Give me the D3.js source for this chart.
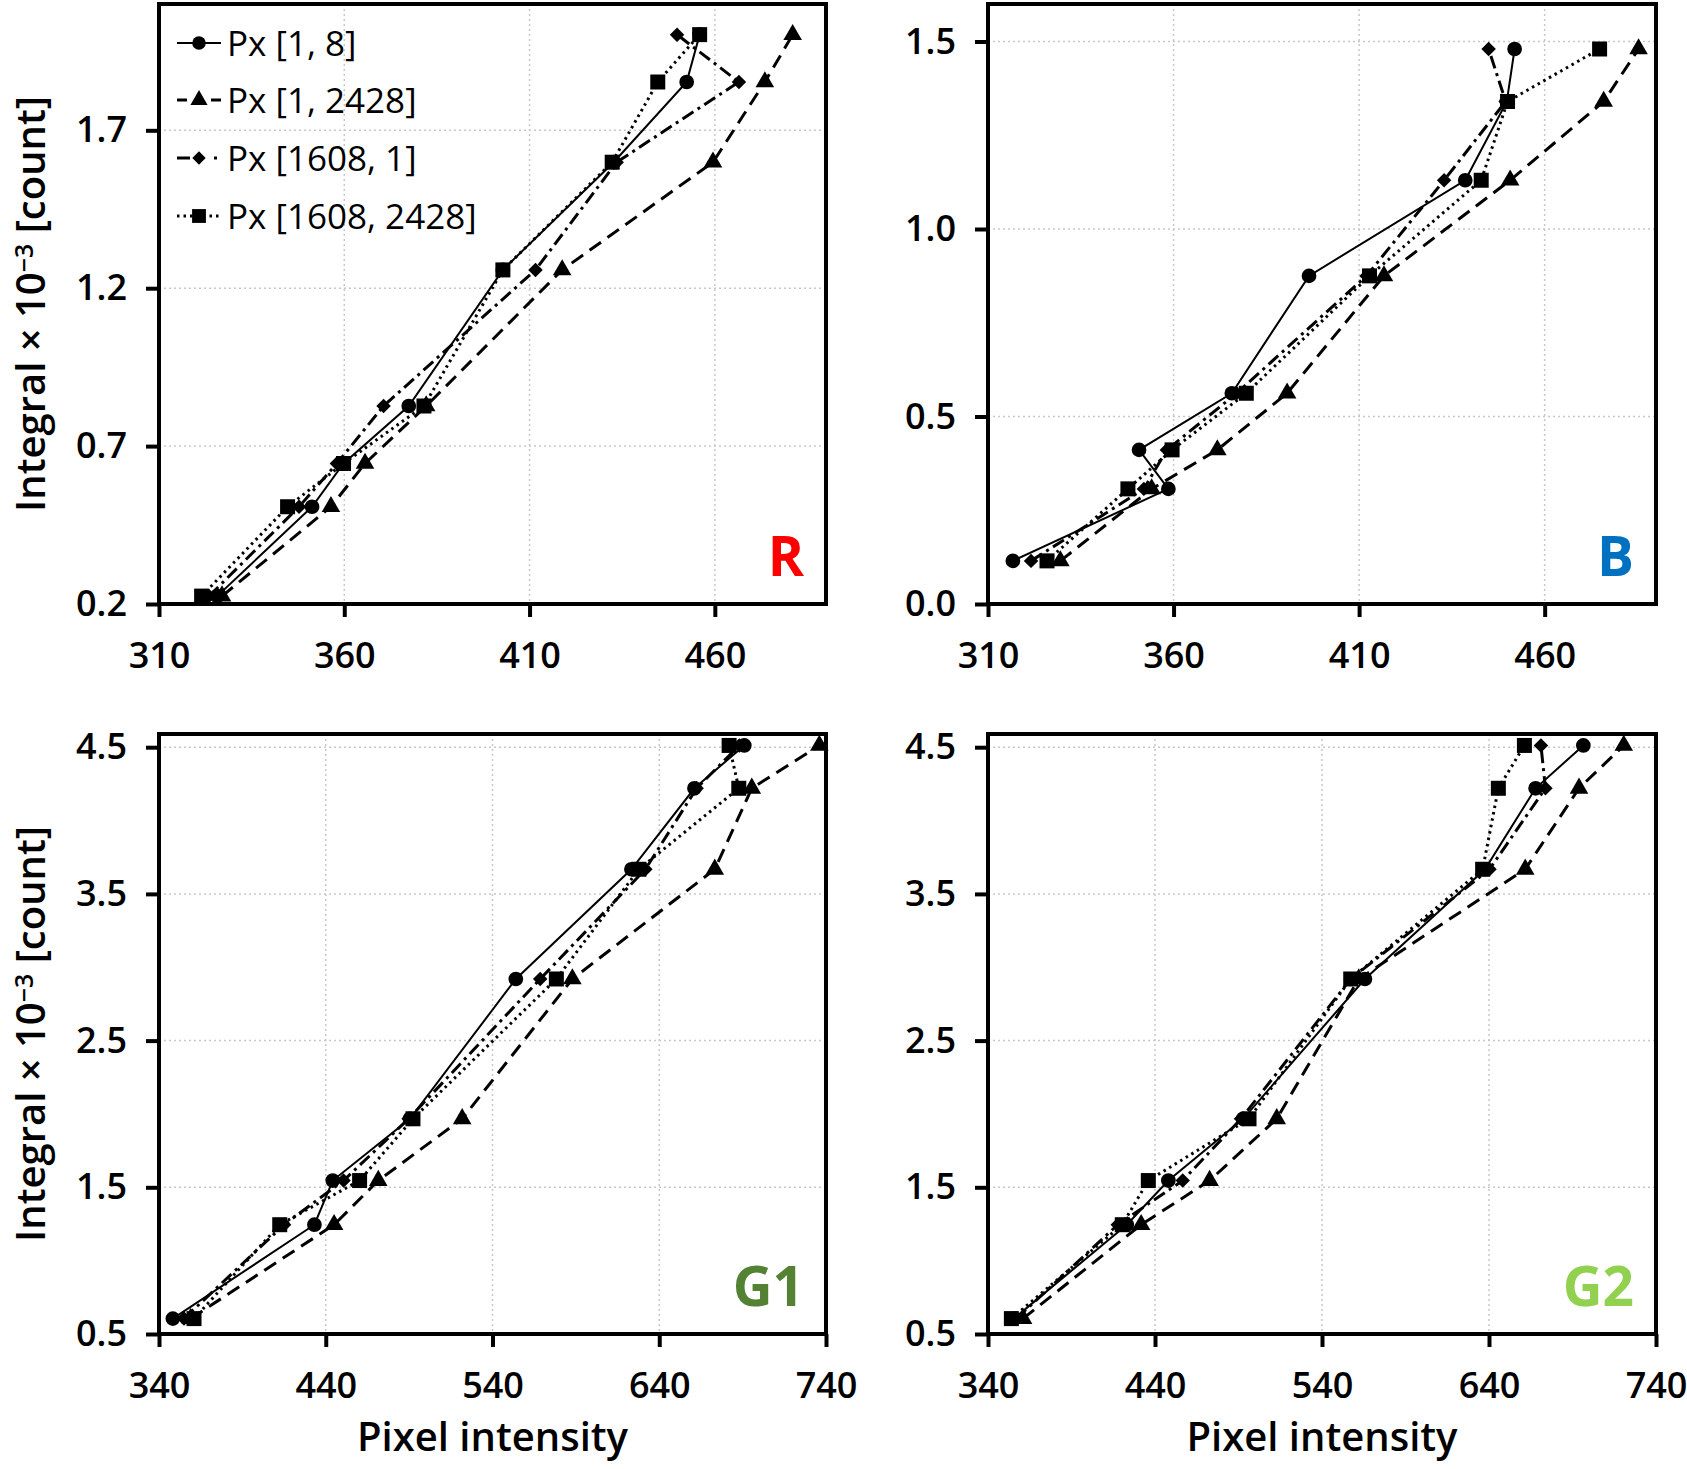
<!DOCTYPE html>
<html>
<head>
<meta charset="utf-8">
<script src="https://cdn.jsdelivr.net/npm/d3@7"></script>
<style>
  html, body { margin: 0; padding: 0; background: #fff; }
  svg { display: block; }
  text { font-family: "Open Sans", sans-serif; fill: #000; }
</style>
</head>
<body>
<svg id="chart" width="1687" height="1469"></svg>
<script>

var seriesNames = ['Px [1, 8]', 'Px [1, 2428]', 'Px [1608, 1]', 'Px [1608, 2428]'];

// R channel
var rIntegral     = [0.225, 0.508, 0.645, 0.827, 1.258, 1.599, 1.853, 2.003];
var rPx_1_8       = [325.7, 351.3, 359.8, 377.4, 402.8, 432.7, 452.4, 455.9];
var rPx_1_2428    = [327.0, 356.4, 365.6, 382.1, 418.8, 459.5, 473.5, 481.0];
var rPx_1608_1    = [323.5, 347.8, 358.0, 370.6, 411.6, 433.5, 466.5, 449.8];
var rPx_1608_2428 = [321.5, 344.7, 359.8, 381.5, 402.8, 432.3, 444.6, 455.9];

// B channel
var bIntegral     = [0.115, 0.307, 0.411, 0.562, 0.875, 1.130, 1.340, 1.480];
var bPx_1_8       = [316.7, 358.6, 350.7, 375.7, 396.5, 438.6, 449.8, 451.9];
var bPx_1_2428    = [329.5, 354.1, 371.8, 390.6, 416.7, 450.7, 475.9, 485.3];
var bPx_1608_1    = [321.6, 352.0, 358.2, 377.0, 412.0, 432.9, 449.5, 444.9];
var bPx_1608_2428 = [325.9, 347.7, 359.6, 379.6, 412.8, 442.9, 450.0, 474.8];

// G1 channel
var g1Integral     = [0.605, 1.245, 1.546, 1.967, 2.920, 3.668, 4.220, 4.512];
var g1Px_1_8       = [348.3, 433.2, 444.2, 490.5, 554.0, 623.3, 661.1, 691.0];
var g1Px_1_2428    = [359.0, 445.0, 471.5, 521.8, 587.9, 673.3, 695.5, 736.0];
var g1Px_1608_1    = [355.0, 415.0, 450.7, 489.7, 568.6, 631.7, 662.4, 688.0];
var g1Px_1608_2428 = [361.0, 412.4, 460.3, 492.3, 578.3, 627.8, 687.7, 681.9];

// G2 channel
var g2Integral     = [0.605, 1.245, 1.546, 1.967, 2.920, 3.668, 4.220, 4.512];
var g2Px_1_8       = [355.5, 423.1, 448.0, 492.8, 565.7, 637.6, 667.9, 696.5];
var g2Px_1_2428    = [361.0, 431.7, 472.7, 512.9, 562.0, 661.7, 693.9, 720.7];
var g2Px_1608_1    = [357.0, 417.7, 456.6, 491.5, 557.2, 640.3, 673.8, 671.1];
var g2Px_1608_2428 = [354.0, 420.4, 436.0, 496.3, 557.2, 636.2, 645.6, 661.2];

// tick labels
var rXTicks = [310, 360, 410, 460];
var rYTicks = [0.2, 0.7, 1.2, 1.7];
var bXTicks = [310, 360, 410, 460];
var bYTicks = [0.0, 0.5, 1.0, 1.5];
var gXTicks = [340, 440, 540, 640, 740];
var gYTicks = [0.5, 1.5, 2.5, 3.5, 4.5];

// line / marker look for each series
var styles = [
  { symbol: d3.symbolCircle,   size: 170, rot: 0,  dash: null,       width: 2, legendDash: null },
  { symbol: d3.symbolTriangle, size: 150, rot: 0,  dash: '14,8',     width: 3, legendDash: '10,24,10' },
  { symbol: d3.symbolSquare,   size: 105, rot: 45, dash: '13,5,3,5', width: 3, legendDash: '13,24,3,10' },
  { symbol: d3.symbolSquare,   size: 225, rot: 0,  dash: '2.5,4',    width: 3, legendDash: '2.5,4' }
];

var svg = d3.select('#chart');

var panels = [
  { label: 'R', color: '#ff0000', left: 159, right: 826, top: 4, bottom: 604,
    xDomain: [310, 490], yDomain: [0.2, 2.1], xTicks: rXTicks, yTicks: rYTicks,
    integral: rIntegral, series: [rPx_1_8, rPx_1_2428, rPx_1608_1, rPx_1608_2428],
    legend: true, yTitle: true, xTitle: false },
  { label: 'B', color: '#0070c0', left: 988, right: 1656, top: 4, bottom: 604,
    xDomain: [310, 490], yDomain: [0.0, 1.6], xTicks: bXTicks, yTicks: bYTicks,
    integral: bIntegral, series: [bPx_1_8, bPx_1_2428, bPx_1608_1, bPx_1608_2428],
    legend: false, yTitle: false, xTitle: false },
  { label: 'G1', color: '#548235', left: 159, right: 826, top: 734, bottom: 1334,
    xDomain: [340, 740], yDomain: [0.5, 4.59], xTicks: gXTicks, yTicks: gYTicks,
    integral: g1Integral, series: [g1Px_1_8, g1Px_1_2428, g1Px_1608_1, g1Px_1608_2428],
    legend: false, yTitle: true, xTitle: true },
  { label: 'G2', color: '#92d050', left: 988, right: 1656, top: 734, bottom: 1334,
    xDomain: [340, 740], yDomain: [0.5, 4.59], xTicks: gXTicks, yTicks: gYTicks,
    integral: g2Integral, series: [g2Px_1_8, g2Px_1_2428, g2Px_1608_1, g2Px_1608_2428],
    legend: false, yTitle: false, xTitle: true }
];

function marker(sel, st, scale) {
  sel.attr('d', d3.symbol().type(st.symbol).size(st.size * (scale || 1))())
     .attr('fill', '#000');
}

function drawPanel(p) {
  var x = d3.scaleLinear().domain(p.xDomain).range([p.left, p.right]);
  var y = d3.scaleLinear().domain(p.yDomain).range([p.bottom, p.top]);
  var g = svg.append('g');

  // dotted grid
  g.selectAll('.gx')
    .data(p.xTicks.filter(function (v) { return x(v) > p.left + 2 && x(v) < p.right - 2; }))
    .enter().append('line')
    .attr('x1', function (d) { return x(d); }).attr('x2', function (d) { return x(d); })
    .attr('y1', p.top).attr('y2', p.bottom)
    .attr('stroke', '#c8c8c8').attr('stroke-width', 1.5).attr('stroke-dasharray', '2,3');
  g.selectAll('.gy')
    .data(p.yTicks.filter(function (v) { return y(v) > p.top + 2 && y(v) < p.bottom - 2; }))
    .enter().append('line')
    .attr('y1', function (d) { return y(d); }).attr('y2', function (d) { return y(d); })
    .attr('x1', p.left).attr('x2', p.right)
    .attr('stroke', '#c8c8c8').attr('stroke-width', 1.5).attr('stroke-dasharray', '2,3');

  // series: line then markers
  p.series.forEach(function (xs, i) {
    var st = styles[i];
    var pts = xs.map(function (v, k) { return [v, p.integral[k]]; });
    var line = d3.line().x(function (d) { return x(d[0]); }).y(function (d) { return y(d[1]); });
    g.append('path')
      .attr('d', line(pts))
      .attr('fill', 'none')
      .attr('stroke', '#000')
      .attr('stroke-width', st.width)
      .attr('stroke-dasharray', st.dash);
    g.selectAll('.m' + i).data(pts).enter().append('path')
      .call(marker, st)
      .attr('transform', function (d) {
        return 'translate(' + x(d[0]) + ',' + y(d[1]) + ') rotate(' + st.rot + ')';
      });
  });

  // frame
  g.append('rect')
    .attr('x', p.left).attr('y', p.top)
    .attr('width', p.right - p.left).attr('height', p.bottom - p.top)
    .attr('fill', 'none').attr('stroke', '#000').attr('stroke-width', 4);

  // axes
  var yAxis = d3.axisLeft(y).tickValues(p.yTicks).tickFormat(d3.format('.1f'))
    .tickSize(13).tickPadding(19);
  var xAxis = d3.axisBottom(x).tickValues(p.xTicks).tickFormat(d3.format('d'))
    .tickSize(13).tickPadding(25);

  [g.append('g').attr('transform', 'translate(' + p.left + ',0)').call(yAxis),
   g.append('g').attr('transform', 'translate(0,' + p.bottom + ')').call(xAxis)]
    .forEach(function (a) {
      a.select('.domain').remove();
      a.selectAll('line').attr('stroke', '#000').attr('stroke-width', 4);
      a.selectAll('text')
        .style('font-family', '"Open Sans", sans-serif')
        .style('font-size', '36px')
        .style('font-weight', 600)
        .attr('fill', '#000');
    });

  // channel label
  g.append('text')
    .attr('x', p.right - 22).attr('y', p.bottom - 28)
    .attr('text-anchor', 'end')
    .style('font-size', '55px').style('font-weight', 700)
    .style('fill', p.color)
    .text(p.label);

  if (p.yTitle) {
    var t = g.append('text')
      .attr('transform', 'translate(45,' + ((p.top + p.bottom) / 2) + ') rotate(-90)')
      .attr('text-anchor', 'middle')
      .style('font-size', '40px').style('font-weight', 600);
    t.append('tspan').text('Integral \u00d7 10');
    t.append('tspan').attr('dy', -12).style('font-size', '25px').text('\u22123');
    t.append('tspan').attr('dy', 12).text(' [count]');
  }

  if (p.xTitle) {
    g.append('text')
      .attr('x', (p.left + p.right) / 2).attr('y', 1451)
      .attr('text-anchor', 'middle')
      .style('font-size', '40px').style('font-weight', 600)
      .text('Pixel intensity');
  }

  if (p.legend) {
    var rowY = [43, 100, 158, 216];
    var leg = g.append('g');
    seriesNames.forEach(function (name, i) {
      var st = styles[i];
      var row = leg.append('g').attr('transform', 'translate(0,' + rowY[i] + ')');
      row.append('line')
        .attr('x1', 177).attr('x2', 221).attr('y1', 0).attr('y2', 0)
        .attr('stroke', '#000').attr('stroke-width', st.width)
        .attr('stroke-dasharray', st.legendDash);
      row.append('path').call(marker, st, 0.85)
        .attr('transform', 'translate(199,0) rotate(' + st.rot + ')');
      row.append('text')
        .attr('x', 227).attr('y', 0).attr('dy', '0.36em')
        .style('font-size', '35px').style('font-weight', 400)
        .text(name);
    });
  }
}

panels.forEach(drawPanel);

</script>
</body>
</html>
